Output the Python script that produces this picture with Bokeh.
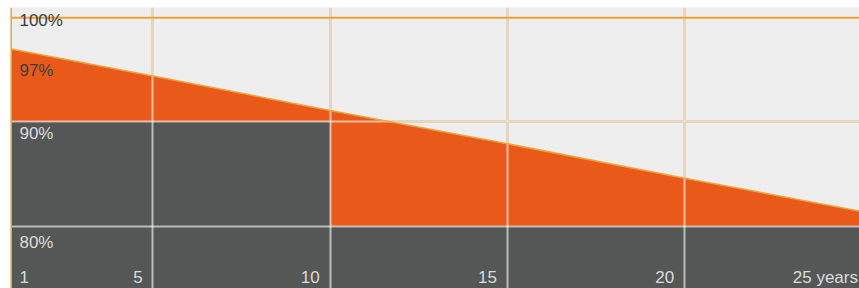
from bokeh.plotting import figure
from bokeh.models import ColumnDataSource, FixedTicker, Grid, Span, Range1d
from bokeh.core.properties import value
from bokeh.embed import file_html
from bokeh.resources import INLINE

# ---- data ----
years = [1, 5, 10, 15, 20, 25]
linear_warranty = [97.0, 94.4, 91.1, 87.9, 84.6, 81.4]   # % power, linear warranty
step_years = [1, 10, 25]
step_warranty = [90, 80, 80]                              # % power, standard step warranty
grid_years = [5, 10, 15, 20]
grid_levels = [80, 90]
top_level = 100
x_tick_years = [1, 5, 10, 15, 20, 25]
x_tick_labels = ["1", "5", "10", "15", "20", "25 years"]
pct_levels = [100, 97, 90, 80]
pct_labels = ["100%", "97%", "90%", "80%"]

X_MIN, X_MAX = 0.987, 24.93
Y_MIN, Y_MAX = 74.01, 100.975

BG = "#eeeeee"
ORANGE = "#e95a1a"
DARK = "#545756"
EDGE = "#eda33a"
FONT = "Liberation Sans"

p = figure(width=859, height=288, output_backend="svg", toolbar_location=None,
           x_range=Range1d(X_MIN, X_MAX), y_range=Range1d(Y_MIN, Y_MAX),
           min_border_left=10, min_border_right=0, min_border_top=7, min_border_bottom=0)
p.background_fill_color = BG
p.border_fill_color = "white"
p.outline_line_color = None
p.axis.visible = False

# underlay grid (beige, visible on light background)
p.xgrid.ticker = FixedTicker(ticks=grid_years)
p.ygrid.ticker = FixedTicker(ticks=grid_levels)
p.grid.grid_line_color = "#c09b5c"
p.grid.grid_line_width = 2

# orange area (linear warranty) from floor up to the line
p.varea(x=years, y1=0, y2=linear_warranty, fill_color=ORANGE)
# dark step area (standard warranty)
p.varea_step(x=step_years, y1=[0] * len(step_years), y2=step_warranty,
             step_mode="after", fill_color=DARK)

# overlay grid (semi-transparent white over the filled areas)
for dim, ticks in ((0, grid_years), (1, grid_levels)):
    g = Grid(dimension=dim, ticker=FixedTicker(ticks=ticks), level="guide",
             grid_line_color="white", grid_line_alpha=0.6, grid_line_width=2)
    p.add_layout(g)

# edge line of the linear warranty
p.line(x=years, y=linear_warranty, line_color=EDGE, line_width=1.5, level="annotation")
# 100% line and left border
p.add_layout(Span(location=top_level, dimension="width", line_color=EDGE,
                  line_width=2, level="annotation"))
p.add_layout(Span(location=years[0], dimension="height", line_color=EDGE,
                  line_width=2, level="annotation"))

# percentage labels
pct_src = ColumnDataSource(dict(
    x=[years[0]] * len(pct_levels), y=pct_levels, text=pct_labels,
    color=["#3d3d3d", "#3d3d3d", "#dcdcdc", "#dcdcdc"],
    dy=[2.5, 21.5, 11.5, 16]))
p.text(x="x", y="y", text="text", source=pct_src, x_offset=8.5, y_offset="dy",
       text_color="color", text_font=value(FONT), text_font_size="17px",
       text_baseline="alphabetic", text_align="left", level="overlay")

# x labels
x_src = ColumnDataSource(dict(
    x=x_tick_years, y=[Y_MIN] * len(x_tick_years), text=x_tick_labels,
    align=["left"] + ["right"] * (len(x_tick_years) - 1),
    dx=[8.5, -10, -10.5, -10.5, -10.5, -4]))
p.text(x="x", y="y", text="text", source=x_src, x_offset="dx", y_offset=-11.5,
       text_color="#dcdcdc", text_font=value(FONT), text_font_size="17px",
       text_baseline="alphabetic", text_align="align", level="overlay")

open("out.html", "w").write(file_html(p, INLINE))
